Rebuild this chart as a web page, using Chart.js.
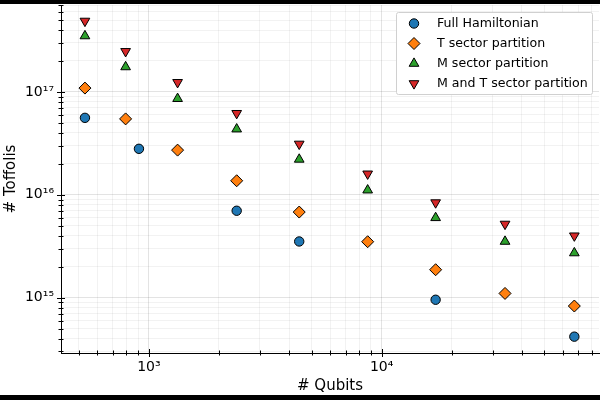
<!DOCTYPE html>
<html>
<head>
<meta charset="utf-8">
<script src="https://cdn.jsdelivr.net/npm/chart.js@4.4.1/dist/chart.umd.min.js"></script>
<style>
  html, body { margin: 0; padding: 0; background: #000; }
  #wrap { position: absolute; left: 0; top: 4px; width: 600px; height: 391px; background: #fff; }
</style>
</head>
<body>
<div id="wrap"><canvas id="chart"></canvas></div>
<script>
// Data
const qubitsFull = [531, 906, 2383, 4424, 17060, 67300];
const toffolisFull = [5.6e16, 2.8e16, 7.0e15, 3.52e15, 9.55e14, 4.18e14];

const qubitsSector = [531, 794, 1328, 2383, 4424, 8708, 17060, 33900, 67300];
const toffolisT = [1.09e17, 5.47e16, 2.72e16, 1.37e16, 6.8e15, 3.5e15, 1.87e15, 1.1e15, 8.3e14];
const toffolisM = [3.5e17, 1.75e17, 8.6e16, 4.35e16, 2.21e16, 1.11e16, 5.98e15, 3.52e15, 2.72e15];
const toffolisMT = [4.89e17, 2.48e17, 1.24e17, 6.2e16, 3.12e16, 1.6e16, 8.4e15, 5.2e15, 4.0e15];

const seriesLabels = ["Full Hamiltonian", "T sector partition", "M sector partition", "M and T sector partition"];

const FONT = "DejaVu Sans";
const SUP = { "0": "⁰", "1": "¹", "2": "²", "3": "³", "4": "⁴", "5": "⁵", "6": "⁶", "7": "⁷", "8": "⁸", "9": "⁹" };

function isPow10(v) {
  const l = Math.log10(v);
  return Math.abs(l - Math.round(l)) < 1e-9;
}

function logTicks(min, max) {
  const out = [];
  for (let e = Math.floor(Math.log10(min)); e <= Math.ceil(Math.log10(max)); e++) {
    for (let m = 1; m <= 9; m++) {
      const v = m * Math.pow(10, e);
      if (v >= min && v <= max) out.push({ value: v });
    }
  }
  return out;
}

function powLabel(v) {
  if (!isPow10(v)) return "";
  const e = String(Math.round(Math.log10(v)));
  return "10" + e.split("").map(function (c) { return SUP[c]; }).join("");
}

function toPoints(xs, ys) {
  return xs.map(function (x, i) { return { x: x, y: ys[i] }; });
}

function makeSet(label, xs, ys, color, style, radius, rotation) {
  return {
    label: label,
    data: toPoints(xs, ys),
    backgroundColor: color,
    borderColor: "#000",
    borderWidth: 1,
    pointStyle: style,
    pointRadius: radius,
    pointHoverRadius: radius,
    rotation: rotation || 0,
  };
}

// no extra edge padding from (empty) edge labels
function noPad(s) {
  s.paddingTop = 0;
  s.paddingBottom = 0;
  s.paddingLeft = 0;
  s.paddingRight = 0;
}

// tick marks crossing the axis lines, major longer than minor
const tickMarks = {
  id: "tickMarks",
  afterDraw(chart) {
    const ctx = chart.ctx;
    const area = chart.chartArea;
    ctx.save();
    ctx.strokeStyle = "#000";
    ctx.lineWidth = 1;
    chart.scales.x.ticks.forEach(function (t) {
      const px = Math.round(chart.scales.x.getPixelForValue(t.value)) + 0.5;
      const len = isPow10(t.value) ? 4 : 2.5;
      ctx.beginPath();
      ctx.moveTo(px, area.bottom - len);
      ctx.lineTo(px, area.bottom + len);
      ctx.stroke();
    });
    chart.scales.y.ticks.forEach(function (t) {
      const py = Math.round(chart.scales.y.getPixelForValue(t.value)) + 0.5;
      const len = isPow10(t.value) ? 4 : 2.5;
      ctx.beginPath();
      ctx.moveTo(area.left - len, py);
      ctx.lineTo(area.left + len, py);
      ctx.stroke();
    });
    ctx.restore();
  },
};

// legend box drawn inside the plot, top right
const boxLegend = {
  id: "boxLegend",
  afterDraw(chart) {
    const ctx = chart.ctx;
    const area = chart.chartArea;
    const w = 196, h = 82;
    const x0 = area.right - 202.5, y0 = area.top + 7.5;
    ctx.save();
    ctx.fillStyle = "#fff";
    ctx.strokeStyle = "#d0d0d0";
    ctx.lineWidth = 1;
    ctx.beginPath();
    ctx.roundRect(x0, y0, w, h, 2);
    ctx.fill();
    ctx.stroke();
    ctx.font = "12.6px '" + FONT + "'";
    ctx.textBaseline = "middle";
    chart.data.datasets.forEach(function (ds, i) {
      const cy = y0 + 11 + i * 20;
      ctx.fillStyle = ds.backgroundColor;
      ctx.strokeStyle = "#000";
      ctx.lineWidth = 1;
      Chart.helpers.drawPoint(ctx, {
        pointStyle: ds.pointStyle,
        radius: ds.pointRadius,
        rotation: ds.rotation,
        borderWidth: 1,
      }, x0 + 17.5, cy);
      ctx.fillStyle = "#000";
      ctx.fillText(ds.label, x0 + 40.5, cy);
    });
    ctx.restore();
  },
};

const gridColor = function (c) {
  if (!c.tick) return "rgba(0,0,0,0.05)";
  return isPow10(c.tick.value) ? "rgba(0,0,0,0.11)" : "rgba(0,0,0,0.05)";
};

new Chart(document.getElementById("chart"), {
  type: "scatter",
  data: {
    datasets: [
      makeSet(seriesLabels[0], qubitsFull, toffolisFull, "#1f77b4", "circle", 4.7),
      makeSet(seriesLabels[1], qubitsSector, toffolisT, "#ff7f0e", "rectRot", 6),
      makeSet(seriesLabels[2], qubitsSector, toffolisM, "#2ca02c", "triangle", 5.6),
      makeSet(seriesLabels[3], qubitsSector, toffolisMT, "#d62728", "triangle", 5.6, 180),
    ],
  },
  options: {
    responsive: true,
    maintainAspectRatio: false,
    animation: false,
    layout: { autoPadding: false, padding: { top: 1, right: 1, left: 0, bottom: 0 } },
    plugins: {
      legend: { display: false },
      tooltip: { enabled: false },
    },
    scales: {
      x: {
        type: "logarithmic",
        min: 419,
        max: 85900,
        afterBuildTicks: function (s) { s.ticks = logTicks(s.min, s.max); },
        afterFit: function (s) { s.height = 42; noPad(s); },
        grid: { color: gridColor, drawTicks: false },
        border: { display: true, color: "#000", width: 1 },
        ticks: {
          autoSkip: false,
          maxRotation: 0,
          padding: 6,
          color: "#000",
          font: { family: FONT, size: 14 },
          callback: function (v) { return powLabel(v); },
        },
        title: {
          display: true,
          text: "# Qubits",
          color: "#000",
          font: { family: FONT, size: 15 },
          padding: { top: 0, bottom: 0 },
        },
      },
      y: {
        type: "logarithmic",
        min: 2.9e14,
        max: 7.0e17,
        afterBuildTicks: function (s) { s.ticks = logTicks(s.min, s.max); },
        afterFit: function (s) { s.width = 61; noPad(s); },
        grid: { color: gridColor, drawTicks: false },
        border: { display: true, color: "#000", width: 1 },
        ticks: {
          autoSkip: false,
          padding: 7,
          color: "#000",
          font: { family: FONT, size: 14 },
          callback: function (v) { return powLabel(v); },
        },
        title: {
          display: true,
          text: "# Toffolis",
          color: "#000",
          font: { family: FONT, size: 15 },
          padding: { top: 2, bottom: 0 },
        },
      },
    },
  },
  plugins: [tickMarks, boxLegend],
});
</script>
</body>
</html>
